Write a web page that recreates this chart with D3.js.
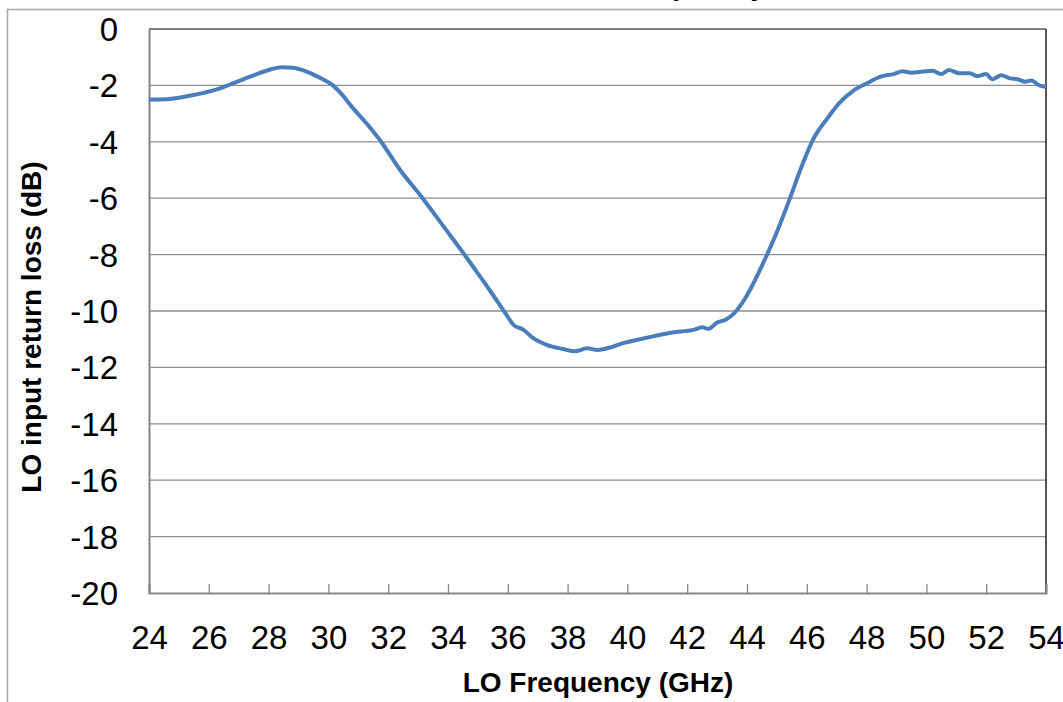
<!DOCTYPE html>
<html>
<head>
<meta charset="utf-8">
<script src="https://cdn.jsdelivr.net/npm/d3@7"></script>
<style>
	body { margin: 0; background: #fff; }
	svg { display: block; font-family: Arial, "Liberation Sans", sans-serif; }
	.tick-label { font-size: 33px; fill: #000; }
	.axis-title { font-size: 28px; font-weight: bold; fill: #000; }
</style>
</head>
<body>
<div id="chart"></div>
<script>
var freqGHz = [
	24.0, 24.6, 25.4, 26.3, 26.8, 27.4, 27.95, 28.45, 28.8, 29.25,
	29.7, 30.15, 30.5, 30.8, 31.3, 31.75, 32.4, 33.15, 33.85, 34.55,
	34.92, 35.42, 35.9, 36.2, 36.5, 36.85, 37.3, 37.85, 38.25, 38.65,
	39.0, 39.5, 39.85, 40.3, 40.85, 41.5, 42.2, 42.5, 42.7, 43.0,
	43.3, 43.55, 43.9, 44.2, 44.65, 45.0, 45.45, 45.8, 46.2, 46.7,
	47.1, 47.55, 48.0, 48.5, 48.9, 49.2, 49.5, 49.9, 50.2, 50.5,
	50.75, 51.1, 51.45, 51.7, 52.0, 52.2, 52.5, 52.8, 53.05, 53.3,
	53.5, 53.8, 54.0
];

var returnLossDb = [
	-2.50, -2.49, -2.36, -2.13, -1.93, -1.68, -1.47, -1.36, -1.37, -1.50,
	-1.72, -2.00, -2.38, -2.78, -3.38, -3.98, -5.00, -6.00, -7.00, -8.00,
	-8.55, -9.30, -10.05, -10.50, -10.65, -10.96, -11.20, -11.35, -11.43, -11.32,
	-11.38, -11.27, -11.14, -11.03, -10.90, -10.76, -10.67, -10.58, -10.63, -10.41,
	-10.30, -10.10, -9.62, -9.05, -8.05, -7.20, -5.96, -4.95, -3.94, -3.15,
	-2.61, -2.19, -1.93, -1.68, -1.60, -1.50, -1.55, -1.51, -1.48, -1.60,
	-1.45, -1.57, -1.57, -1.67, -1.60, -1.78, -1.64, -1.75, -1.78, -1.87,
	-1.83, -2.01, -2.05
];

var xTicks = [ 24, 26, 28, 30, 32, 34, 36, 38, 40, 42, 44, 46, 48, 50, 52, 54 ];
var yTicks = [ 0, -2, -4, -6, -8, -10, -12, -14, -16, -18, -20 ];

var titleText = 'LO Return Loss vs. Frequency';
var xTitle = 'LO Frequency (GHz)';
var yTitle = 'LO input return loss (dB)';

var sizes = { width: 1063, height: 702 };
var plot = { left: 149, right: 1046, top: 29, bottom: 593 };

var svg = d3.select( '#chart' ).append( 'svg' )
	.attr( 'width', sizes.width )
	.attr( 'height', sizes.height );

// outer chart frame (runs off the right / bottom edge)
svg.append( 'rect' )
	.attr( 'x', 7.5 ).attr( 'y', 9.5 )
	.attr( 'width', 1100 ).attr( 'height', 760 )
	.style( 'fill', 'none' )
	.style( 'stroke', '#a6a6a6' )
	.style( 'stroke-width', 1.5 );

// title, almost entirely cut off at the top
svg.append( 'text' )
	.attr( 'x', 767 ).attr( 'y', -5 )
	.attr( 'text-anchor', 'end' )
	.style( 'font-size', '30px' )
	.style( 'font-weight', 'bold' )
	.text( titleText );

var x = d3.scaleLinear().domain( [ 24, 54 ] ).range( [ plot.left, plot.right ] );
var y = d3.scaleLinear().domain( [ -20, 0 ] ).range( [ plot.bottom, plot.top ] );

var plain = function ( d ) { return String( d ); };

// gridlines
svg.append( 'g' ).selectAll( 'line' )
	.data( yTicks.filter( function ( d ) { return d !== 0 && d !== -20; } ) )
	.enter().append( 'line' )
	.attr( 'x1', plot.left ).attr( 'x2', plot.right )
	.attr( 'y1', function ( d ) { return y( d ); } )
	.attr( 'y2', function ( d ) { return y( d ); } )
	.style( 'stroke', '#8e8e8e' )
	.style( 'stroke-width', 1.3 );

// top and right borders of the plot area
svg.append( 'line' )
	.attr( 'x1', plot.left ).attr( 'x2', plot.right )
	.attr( 'y1', y( 0 ) ).attr( 'y2', y( 0 ) )
	.style( 'stroke', '#555' ).style( 'stroke-width', 1.5 );
svg.append( 'line' )
	.attr( 'x1', plot.right ).attr( 'x2', plot.right )
	.attr( 'y1', plot.top ).attr( 'y2', plot.bottom )
	.style( 'stroke', '#222' ).style( 'stroke-width', 1.5 );

// x axis, ticks pointing inward
var xAxis = d3.axisBottom( x ).tickValues( xTicks ).tickSize( -9 ).tickFormat( plain );
var gx = svg.append( 'g' )
	.attr( 'transform', 'translate(0,' + plot.bottom + ')' )
	.call( xAxis );
gx.attr( 'font-size', null ).attr( 'font-family', null );
gx.select( '.domain' ).style( 'stroke', '#868686' ).style( 'stroke-width', 2 );
gx.selectAll( '.tick line' ).style( 'stroke', '#868686' ).style( 'stroke-width', 1.3 );
gx.selectAll( '.tick text' ).attr( 'class', 'tick-label' ).attr( 'y', 33 ).attr( 'dy', '0.71em' );

// y axis
var yAxis = d3.axisLeft( y ).tickValues( yTicks ).tickSize( 0 ).tickPadding( 31 ).tickFormat( plain );
var gy = svg.append( 'g' )
	.attr( 'transform', 'translate(' + plot.left + ',0)' )
	.call( yAxis );
gy.attr( 'font-size', null ).attr( 'font-family', null );
gy.select( '.domain' ).style( 'stroke', '#868686' ).style( 'stroke-width', 2 );
gy.selectAll( '.tick text' ).attr( 'class', 'tick-label' ).attr( 'dy', '0.35em' );

// the curve
var points = freqGHz.map( function ( f, i ) { return [ f, returnLossDb[ i ] ]; } );
var line = d3.line()
	.x( function ( d ) { return x( d[0] ); } )
	.y( function ( d ) { return y( d[1] ); } )
	.curve( d3.curveMonotoneX );

svg.append( 'path' )
	.datum( points )
	.attr( 'd', line )
	.style( 'fill', 'none' )
	.style( 'stroke', '#4a7ebb' )
	.style( 'stroke-width', 4 )
	.style( 'stroke-linejoin', 'round' );

// axis titles
svg.append( 'text' )
	.attr( 'class', 'axis-title' )
	.attr( 'x', 598 ).attr( 'y', 692 )
	.attr( 'text-anchor', 'middle' )
	.text( xTitle );

svg.append( 'text' )
	.attr( 'class', 'axis-title' )
	.attr( 'transform', 'translate(41,327) rotate(-90)' )
	.attr( 'text-anchor', 'middle' )
	.text( yTitle );
</script>
</body>
</html>
